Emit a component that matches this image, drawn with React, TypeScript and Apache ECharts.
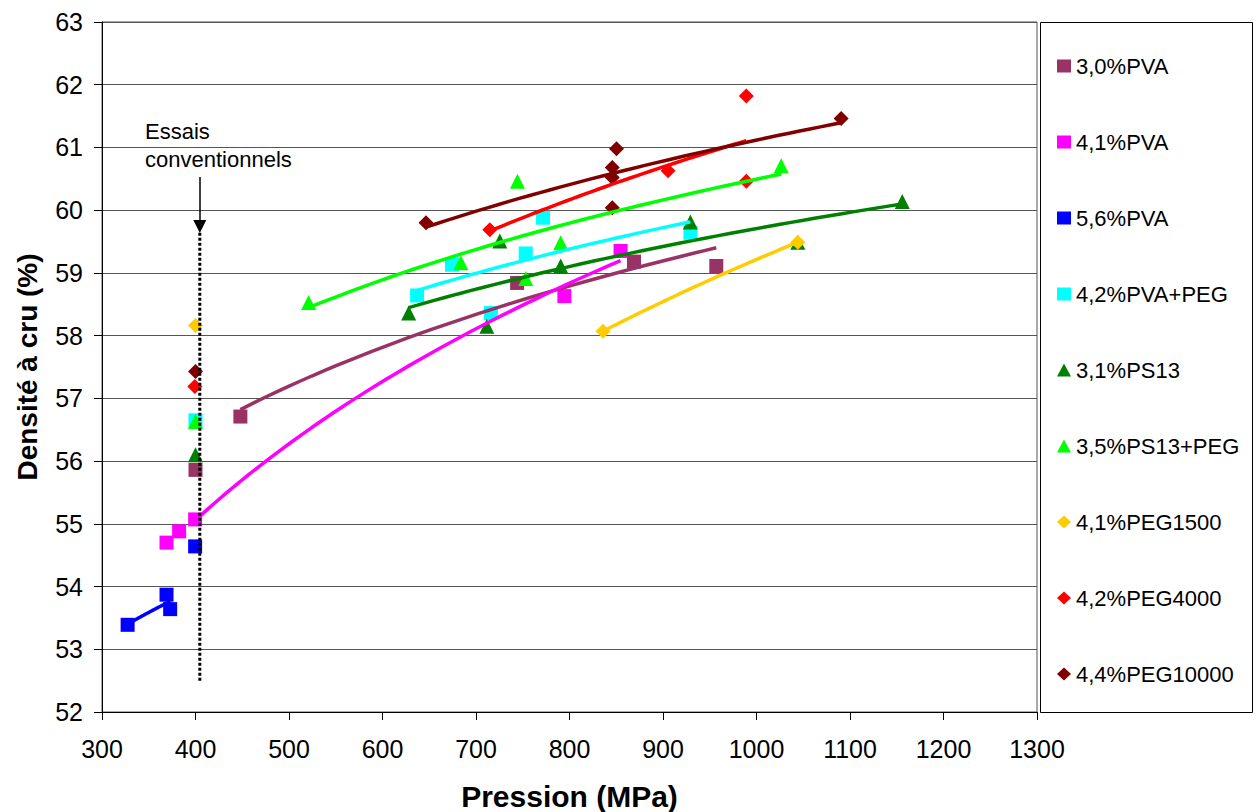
import React, { useEffect, useRef } from "react";
import * as echarts from "echarts";

// ---- data ----
const seriesNames = [
  "3,0%PVA",
  "4,1%PVA",
  "5,6%PVA",
  "4,2%PVA+PEG",
  "3,1%PS13",
  "3,5%PS13+PEG",
  "4,1%PEG1500",
  "4,2%PEG4000",
  "4,4%PEG10000",
];

// points not included in the trend line (conventional tests etc.)
const pva30Extra = [[400, 55.86]];
const pva30Fit = [[448, 56.71], [744, 58.84], [869, 59.18], [957, 59.11]];
const pva41Extra = [[369, 54.7], [382.5, 54.88]];
const pva41Fit = [[399.6, 55.07], [794.5, 58.63], [854.6, 59.35]];
const pva56Extra = [[399.6, 54.64]];
const pva56Fit = [[327.4, 53.39], [369, 53.87], [372.9, 53.64]];
const pvaPegExtra = [[400, 56.65]];
const pvaPegFit = [[637, 58.64], [674.3, 59.13], [715.9, 58.36], [753.2, 59.31], [771.7, 59.88], [929.3, 59.64]];
const ps13Extra = [[400, 56.1]];
const ps13Fit = [[628, 58.36], [711.6, 58.15], [725.5, 59.51], [790.6, 59.11], [929.3, 59.81], [1044.2, 59.49], [1155.9, 60.14]];
const ps13PegExtra = [[400, 56.63]];
const ps13PegFit = [[521, 58.53], [683.9, 59.16], [744.3, 60.46], [790.6, 59.48], [753.2, 58.91], [1026.4, 60.71]];
const peg1500Extra = [[400, 58.16]];
const peg1500Fit = [[835.8, 58.07], [1044.2, 59.49]];
const peg4000Extra = [[399.3, 57.19]];
const peg4000Fit = [[714.8, 59.69], [905.4, 60.63], [989.1, 61.82], [989.1, 60.46]];
const peg10000Extra = [[400, 57.43]];
const peg10000Fit = [[646.5, 59.8], [850.3, 60.98], [845.7, 60.68], [845.7, 60.52], [845.7, 60.04], [1090.5, 61.46]];

// annotation "Essais conventionnels"
const conventionalX = 404.6;
const dottedLine = [[conventionalX, 59.64], [conventionalX, 52.49]];
const arrowFrom = [conventionalX, 60.53];
const arrowTo = [conventionalX, 59.74];

const xMin = 300, xMax = 1300, xStep = 100;
const yMin = 52, yMax = 63, yStep = 1;

// ---- styles ----
const colors = ["#993366", "#FF00FF", "#0000FF", "#00FFFF", "#008000", "#00FF00", "#FFCC00", "#FF0000", "#800000"];
const symbols = ["rect", "rect", "rect", "rect", "triangle", "triangle", "diamond", "diamond", "diamond"];
const symbolSizes = [14, 14, 14, 14, 15, 15, 15, 15, 15];
const FONT = "'Liberation Sans', Arial, sans-serif";

// Excel-style logarithmic trendline (least squares on ln x)
function logTrend(pts: number[][]): number[][] {
  const n = pts.length;
  const lx = pts.map((p) => Math.log(p[0]));
  const mx = lx.reduce((a, b) => a + b, 0) / n;
  const my = pts.reduce((a, p) => a + p[1], 0) / n;
  let sxx = 0, sxy = 0;
  for (let i = 0; i < n; i++) {
    sxx += (lx[i] - mx) * (lx[i] - mx);
    sxy += (lx[i] - mx) * (pts[i][1] - my);
  }
  const a = sxy / sxx;
  const b = my - a * mx;
  const xs = pts.map((p) => p[0]);
  const lo = Math.min(...xs), hi = Math.max(...xs);
  const out: number[][] = [];
  const steps = 40;
  for (let i = 0; i <= steps; i++) {
    const x = lo + ((hi - lo) * i) / steps;
    out.push([x, a * Math.log(x) + b]);
  }
  return out;
}

export default function App() {
  const ref = useRef<HTMLDivElement>(null);
  useEffect(() => {
    if (!ref.current) return;
    const chart = echarts.init(ref.current, undefined, { renderer: "svg" });
    const extras = [pva30Extra, pva41Extra, pva56Extra, pvaPegExtra, ps13Extra, ps13PegExtra, peg1500Extra, peg4000Extra, peg10000Extra];
    const fits = [pva30Fit, pva41Fit, pva56Fit, pvaPegFit, ps13Fit, ps13PegFit, peg1500Fit, peg4000Fit, peg10000Fit];

    const series: any[] = [];
    seriesNames.forEach((name, i) => {
      series.push({
        name,
        type: "scatter",
        symbol: symbols[i],
        symbolSize: symbolSizes[i],
        itemStyle: { color: colors[i], opacity: 1 },
        data: [...extras[i], ...fits[i]],
        z: 3,
        silent: true,
      });
    });
    seriesNames.forEach((name, i) => {
      series.push({
        name: name + " trend",
        type: "line",
        data: logTrend(fits[i]),
        showSymbol: false,
        symbol: "none",
        smooth: false,
        lineStyle: { color: colors[i], width: 3.5 },
        z: 4,
        silent: true,
      });
    });
    series.push({
      name: "conventional",
      type: "line",
      data: dottedLine,
      symbol: "none",
      showSymbol: false,
      lineStyle: { color: "#000", width: 3, type: [3, 2] },
      z: 5,
      silent: true,
      markLine: {
        silent: true,
        symbol: ["none", "triangle"],
        symbolSize: [13, 13],
        lineStyle: { color: "#000", width: 1.5, type: "solid" },
        label: { show: false },
        data: [[{ coord: arrowFrom }, { coord: arrowTo }]],
      },
    });

    chart.setOption({
      animation: false,
      textStyle: { fontFamily: FONT },
      grid: {
        left: 102,
        top: 22,
        width: 935,
        height: 690,
        show: true,
        borderColor: "#555",
        borderWidth: 1,
        containLabel: false,
        outerBoundsMode: "none",
      },
      xAxis: {
        type: "value",
        min: xMin,
        max: xMax,
        interval: xStep,
        name: "Pression (MPa)",
        nameLocation: "middle",
        nameGap: 69,
        nameTextStyle: { fontSize: 30, fontWeight: "bold", color: "#000", fontFamily: FONT },
        axisLine: { show: true, lineStyle: { color: "#000", width: 1 } },
        axisTick: { show: true, length: 8, lineStyle: { color: "#000" } },
        axisLabel: { fontSize: 25, color: "#000", margin: 24, fontFamily: FONT, formatter: (v: number) => String(v) },
        splitLine: { show: false },
      },
      yAxis: {
        type: "value",
        min: yMin,
        max: yMax,
        interval: yStep,
        name: "Densité à cru (%)",
        nameLocation: "middle",
        nameGap: 61,
        nameTextStyle: { fontSize: 28, fontWeight: "bold", color: "#000", fontFamily: FONT },
        axisLine: { show: true, lineStyle: { color: "#000", width: 1 } },
        axisTick: { show: true, length: 8, lineStyle: { color: "#000" } },
        axisLabel: { fontSize: 25, color: "#000", margin: 19, fontFamily: FONT, formatter: (v: number) => String(v) },
        splitLine: { show: true, lineStyle: { color: "#555", width: 1 } },
      },
      legend: {
        orient: "vertical",
        left: 1052,
        top: 50,
        itemGap: 54,
        itemWidth: 14,
        itemHeight: 13,
        selectedMode: false,
        textStyle: { fontSize: 22, color: "#000", fontFamily: FONT, lineHeight: 22 },
        data: seriesNames.map((n, i) => ({ name: n, icon: symbols[i], itemStyle: { color: colors[i], opacity: 1 } })),
      },
      graphic: [
        {
          type: "rect",
          shape: { x: 1040.5, y: 22.5, width: 212, height: 690 },
          style: { fill: "none", stroke: "#000", lineWidth: 1 },
          silent: true,
        },
        {
          type: "text",
          left: 145,
          top: 117,
          style: {
            text: "Essais\nconventionnels",
            fontSize: 22,
            fontFamily: FONT,
            lineHeight: 28,
            fill: "#000",
          },
          silent: true,
        },
      ],
      series,
    });
    return () => chart.dispose();
  }, []);
  return <div ref={ref} style={{ position: "absolute", left: 0, top: 0, width: 1257, height: 812 }} />;
}
